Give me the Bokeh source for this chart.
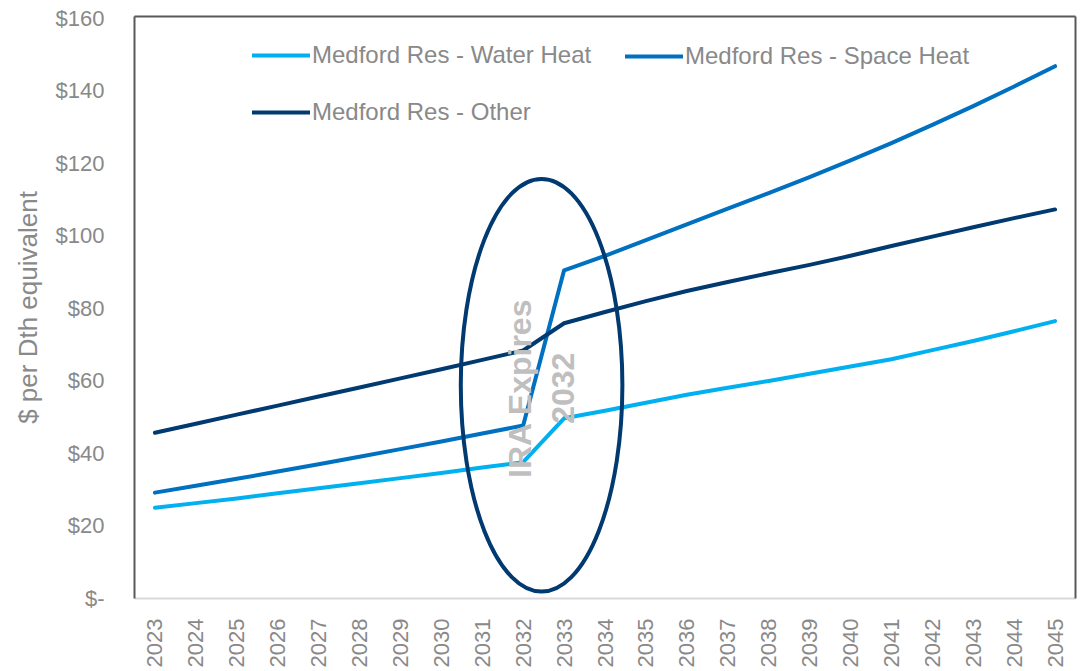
import math
from bokeh.plotting import figure
from bokeh.models import Range1d, FixedTicker, LinearAxis, Legend, LegendItem
from bokeh.core.properties import value
from bokeh.embed import file_html
from bokeh.resources import INLINE

years = list(range(2023, 2046))
water_heat = [25.0, 26.3, 27.6, 29.0, 30.4, 31.8, 33.2, 34.6, 36.1, 37.6,
              49.7, 51.8, 54.0, 56.2, 58.1, 60.0, 62.0, 64.0, 66.0, 68.5, 71.0, 73.7, 76.5]
space_heat = [29.2, 31.1, 33.0, 35.0, 37.0, 39.1, 41.2, 43.3, 45.5, 47.7,
              90.5, 94.5, 98.8, 103.2, 107.5, 111.8, 116.2, 120.8, 125.6, 130.6, 135.8, 141.2, 146.8]
other = [45.7, 48.2, 50.7, 53.2, 55.7, 58.2, 60.7, 63.2, 65.8, 68.4,
         75.9, 79.0, 82.0, 84.8, 87.3, 89.7, 92.0, 94.5, 97.2, 99.8, 102.4, 104.9, 107.3]
series_names = ["Medford Res - Water Heat", "Medford Res - Space Heat", "Medford Res - Other"]
y_ticks = [0, 20, 40, 60, 80, 100, 120, 140, 160]
y_tick_labels = ["$-", "$20", "$40", "$60", "$80", "$100", "$120", "$140", "$160"]
y_axis_title = "$ per Dth equivalent"
annotation_text = "IRA Expires\n2032"

FONT_NAME = "Liberation Sans"
GRAY_TXT = "#898989"
DARK_AX = "#595959"
colors = ["#00B0F0", "#0070C0", "#003A70"]

p = figure(width=1088, height=670, output_backend="svg", toolbar_location=None,
           x_range=Range1d(2022.5, 2045.5), y_range=Range1d(0, 160.5),
           min_border_left=134, min_border_right=13, min_border_top=16, min_border_bottom=72,
           x_axis_location=None, y_axis_location=None)
p.outline_line_color = None
p.xgrid.visible = False
p.ygrid.visible = False
p.background_fill_color = "white"
p.border_fill_color = "white"

# left axis
yax = LinearAxis(ticker=FixedTicker(ticks=y_ticks))
yax.major_label_overrides = {t: l for t, l in zip(y_ticks, y_tick_labels)}
yax.axis_label = y_axis_title
yax.axis_label_text_font = FONT_NAME
yax.axis_label_text_font_style = "normal"
yax.axis_label_text_font_size = "26px"
yax.axis_label_text_color = GRAY_TXT
yax.axis_label_standoff = 10
yax.major_label_text_font = FONT_NAME
yax.major_label_text_font_size = "22px"
yax.major_label_text_color = GRAY_TXT
yax.major_label_standoff = 24
yax.major_tick_line_color = None
yax.minor_tick_line_color = None
yax.axis_line_color = DARK_AX
yax.axis_line_width = 2
p.add_layout(yax, "left")

# bottom axis
xax = LinearAxis(ticker=FixedTicker(ticks=years))
xax.major_label_orientation = math.pi / 2
xax.major_label_text_font = FONT_NAME
xax.major_label_text_font_size = "22px"
xax.major_label_text_color = GRAY_TXT
xax.major_label_standoff = 14
xax.major_tick_line_color = None
xax.minor_tick_line_color = None
xax.axis_line_color = "#D9D9D9"
xax.axis_line_width = 2
p.add_layout(xax, "below")

# frame top / right
for loc in ("above", "right"):
    ax = LinearAxis(ticker=FixedTicker(ticks=[]))
    ax.major_tick_line_color = None
    ax.minor_tick_line_color = None
    ax.axis_line_color = DARK_AX
    ax.axis_line_width = 2
    ax.major_label_text_font_size = "0px"
    p.add_layout(ax, loc)

renderers = []
for vals, c in zip([water_heat, space_heat, other], colors):
    r = p.line(years, vals, line_color=c, line_width=4, line_cap="round", line_join="round")
    renderers.append(r)

# annotation text and ellipse
p.text(x=[2032.45], y=[58.0], text=[annotation_text], angle=math.pi / 2,
       text_align="center", text_baseline="middle", text_font=value(FONT_NAME),
       text_font_style="bold", text_font_size="32px", text_color="#BFBFBF",
       text_line_height=1.2)

p.ellipse(x=[2032.45], y=[58.8], width=[3.95], height=[113.8],
          fill_color=None, line_color="#003A70", line_width=4)

legend_style = dict(orientation="vertical", padding=0, margin=0, spacing=29,
                    glyph_width=58, glyph_height=24, label_standoff=2,
                    label_text_font=FONT_NAME, label_text_font_size="24px",
                    label_text_color=GRAY_TXT, background_fill_alpha=0,
                    border_line_color=None)
legend_a = Legend(items=[LegendItem(label=series_names[0], renderers=[renderers[0]]),
                         LegendItem(label=series_names[2], renderers=[renderers[2]])],
                  location=(118, 472), **legend_style)
legend_b = Legend(items=[LegendItem(label=series_names[1], renderers=[renderers[1]])],
                  location=(491, 528), **legend_style)
p.add_layout(legend_a, "center")
p.add_layout(legend_b, "center")

open("out.html", "w").write(file_html(p, INLINE))
